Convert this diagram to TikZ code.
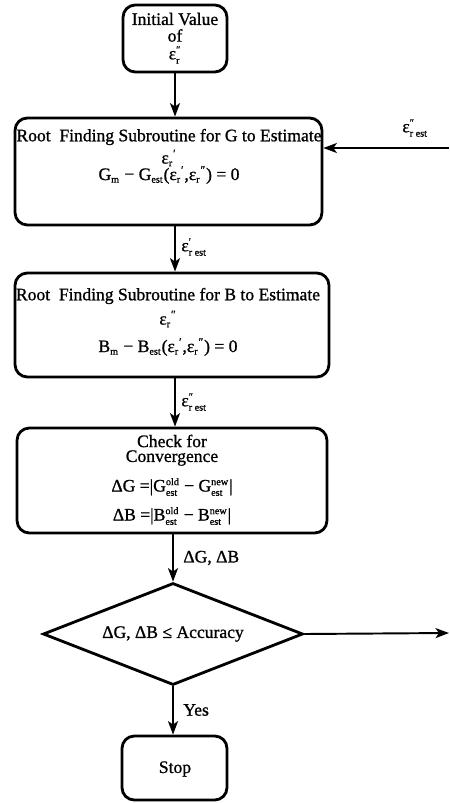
\documentclass[tikz,border=0pt]{standalone}
\usepackage{fontspec}
\setmainfont{Liberation Serif}[FakeBold=1]
\usetikzlibrary{arrows.meta,shapes.geometric}
\newcommand{\SB}[2]{$^{\mbox{\fontsize{5.8}{5.8}\selectfont #1}}_{\mbox{\fontsize{5.8}{5.8}\selectfont #2}}$}
\newcommand{\SBsub}[1]{$_{\mbox{\fontsize{5.8}{5.8}\selectfont #1}}$}
\newcommand{\SBsup}[1]{$^{\mbox{\fontsize{6.5}{6.5}\selectfont #1}}$}
\tikzset{
  box/.style={draw, line width=1.6pt, rounded corners=7pt, inner sep=0pt},
  txt/.style={inner sep=0pt, font=\fontsize{10}{10}\selectfont, align=center},
  arr/.style={line width=1.1pt, -{Stealth[length=0.27cm,width=0.2cm,inset=0.07cm]}},
  lbl/.style={inner sep=0pt, anchor=west, font=\fontsize{10}{10}\selectfont}
}
\begin{document}
\begin{tikzpicture}[x=0.02cm,y=-0.02cm]
\useasboundingbox (0,0) rectangle (449,803);
% boxes
\node[box, minimum width=2.08cm, minimum height=1.34cm] (init) at (175,38.5) {};
\node[box, minimum width=6.14cm, minimum height=2.14cm] (G) at (168.5,171.5) {};
\node[box, minimum width=6.28cm, minimum height=2.08cm] (B) at (172,325) {};
\node[box, minimum width=6.2cm, minimum height=2.1cm] (C) at (172,480.5) {};
\node[draw, diamond, line width=1.6pt, inner sep=0pt, minimum width=5.2cm, minimum height=2.04cm] (D) at (173,634) {};
\node[box, minimum width=2.1cm, minimum height=1.28cm] (S) at (174.5,768) {};
% texts
\node[txt] (i1) at (175,19) {Initial Value};
\node[txt] (i2) at (175,35.5) {of};
\node[txt] (i3) at (175,55) {ε\SB{″}{r}};
\node[txt] (g1) at (169,137) {Root\ \ Finding Subroutine for G to Estimate};
\node[txt] (g2) at (169,158) {ε\SBsub{r}\SBsup{′}};
\node[txt] (g3) at (169,175) {G\SBsub{m} − G\SBsub{est}(ε\SBsub{r}\SBsup{′},ε\SBsub{r}\SBsup{″}) = 0};
\node[txt] (b1) at (168,296) {Root\ \ Finding Subroutine for B to Estimate};
\node[txt] (b2) at (168,319) {ε\SBsub{r}\SBsup{″}};
\node[txt] (b3) at (168,347) {B\SBsub{m} − B\SBsub{est}(ε\SBsub{r}\SBsup{′},ε\SBsub{r}\SBsup{″}) = 0};
\node[txt] (c1) at (172,441) {Check for};
\node[txt] (c2) at (172,458) {Convergence};
\node[txt] (c3) at (172,487) {ΔG =|G\SB{old}{est} − G\SB{new}{est}|};
\node[txt] (c4) at (172,516) {ΔB =|B\SB{old}{est} − B\SB{new}{est}|};
\node[txt] (d1) at (173,634) {ΔG, ΔB ≤ Accuracy};
\node[txt] (s1) at (175,769) {Stop};
% connectors
\coordinate (inG) at (449,148);
\coordinate (out) at (449,633);
\draw[arr] (init.south) -- (init.south |- G.north);
\draw[arr] (inG) -- (G.east |- inG);
\draw[arr] (G.south -| init.south) -- (B.north -| init.south);
\draw[arr] (B.south -| init.south) -- (C.north -| init.south);
\draw[arr] (C.south -| D.north) -- (D.north);
\draw[arr] (D.east) -- (out);
\draw[arr] (D.south) -- (S.north -| D.south);
% connector labels
\node[lbl] (l1) at (402,128) {ε\SB{″}{r est}};
\node[lbl] (l2) at (181,247) {ε\SB{′}{r est}};
\node[lbl] (l3) at (181,402) {ε\SB{″}{r est}};
\node[lbl] (l4) at (183,558) {ΔG, ΔB};
\node[lbl] (l5) at (183,710) {Yes};
\end{tikzpicture}
\end{document}
